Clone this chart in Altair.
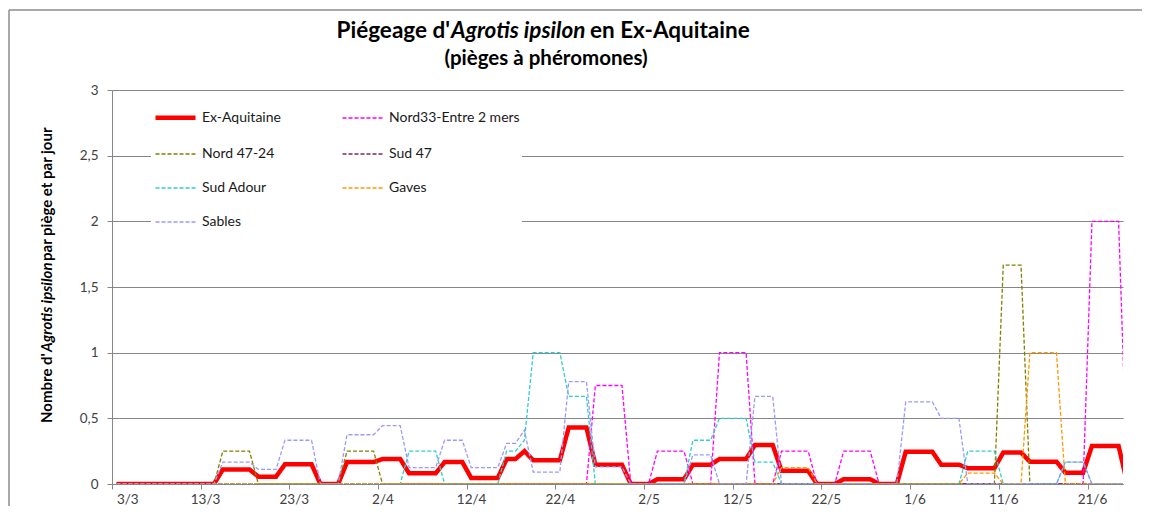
import json
import altair as alt
import pandas as pd

# ---------------- data ----------------
# one category per day, 3/3 .. 25/6
day_labels = [f"{d.day}/{d.month}" for d in pd.date_range("2016-03-03", "2016-06-25", freq="D")]

tick_days = [0, 10, 20, 30, 40, 50, 60, 70, 80, 90, 100, 110]
tick_labels = ["3/3", "13/3", "23/3", "2/4", "12/4", "22/4", "2/5", "12/5", "22/5", "1/6", "11/6", "21/6"]

series_names = ["Ex-Aquitaine", "Nord33-Entre 2 mers", "Nord 47-24", "Sud 47", "Sud Adour", "Gaves", "Sables"]

ex_aquitaine = [
    0, 0, 0, 0, 0, 0, 0, 0, 0, 0, 0, 0,
    0.11, 0.11, 0.11, 0.11,
    0.056, 0.056, 0.056,
    0.15, 0.15, 0.15, 0.15,
    0, 0, 0,
    0.167, 0.167, 0.167, 0.167,
    0.19, 0.19, 0.19,
    0.081, 0.081, 0.081, 0.081,
    0.167, 0.167, 0.167,
    0.046, 0.046, 0.046, 0.046,
    0.19, 0.19, 0.25,
    0.18, 0.18, 0.18, 0.18,
    0.43, 0.43, 0.43,
    0.147, 0.147, 0.147, 0.147,
    0, 0, 0,
    0.036, 0.036, 0.036, 0.036,
    0.147, 0.147, 0.147,
    0.19, 0.19, 0.19, 0.19,
    0.297, 0.297, 0.297,
    0.1, 0.1, 0.1, 0.1,
    0, 0, 0,
    0.036, 0.036, 0.036, 0.036,
    0, 0, 0,
    0.246, 0.246, 0.246, 0.246,
    0.147, 0.147, 0.147,
    0.12, 0.12, 0.12, 0.12,
    0.24, 0.24, 0.24,
    0.17, 0.17, 0.17, 0.17,
    0.086, 0.086, 0.086,
    0.29, 0.29, 0.29, 0.29,
    0,
]

nord33 = [
    0, 0, 0, 0, 0, 0, 0, 0, 0, 0,
    0, 0, 0, 0, 0, 0, 0, 0, 0, 0,
    0, 0, 0, 0, 0, 0, 0, 0, 0, 0,
    0, 0, 0, 0, 0, 0, 0, 0, 0, 0,
    0, 0, 0, 0, 0, 0, 0, 0, 0, 0,
    0, 0, 0, 0,
    0.75, 0.75, 0.75, 0.75,
    0, 0, 0,
    0.25, 0.25, 0.25, 0.25,
    0, 0, 0,
    1, 1, 1, 1,
    0, 0, 0,
    0.25, 0.25, 0.25, 0.25,
    0, 0, 0,
    0.25, 0.25, 0.25, 0.25,
    0, 0, 0, 0, 0, 0, 0, 0, 0, 0,
    0, 0, 0, 0, 0, 0, 0, 0, 0, 0,
    0, 0, 0, 0,
    2, 2, 2, 2,
    0,
]

nord47_24 = [
    0, 0, 0, 0, 0, 0, 0, 0, 0, 0, 0, 0,
    0.25, 0.25, 0.25, 0.25,
    0, 0, 0, 0, 0, 0, 0, 0, 0, 0,
    0.25, 0.25, 0.25, 0.25,
    0, 0, 0, 0, 0, 0, 0, 0, 0, 0,
    0, 0, 0, 0, 0, 0, 0, 0, 0, 0,
    0, 0, 0, 0, 0, 0, 0, 0, 0, 0,
    0, 0, 0, 0, 0, 0, 0, 0, 0, 0,
    0, 0, 0, 0, 0, 0, 0, 0, 0, 0,
    0, 0, 0, 0, 0, 0, 0, 0, 0, 0,
    0, 0, 0, 0, 0, 0, 0, 0, 0, 0,
    1.667, 1.667, 1.667,
    0, 0, 0, 0, 0, 0, 0, 0, 0, 0, 0, 0,
]

sud47 = [
    0, 0, 0, 0, 0, 0, 0, 0, 0, 0,
    0, 0, 0, 0, 0, 0, 0, 0, 0, 0,
    0, 0, 0, 0, 0, 0, 0, 0, 0, 0,
    0, 0, 0, 0, 0, 0, 0, 0, 0, 0,
    0, 0, 0, 0, 0, 0, 0, 0, 0, 0,
    0, 0, 0, 0, 0, 0, 0, 0, 0, 0,
    0, 0, 0, 0, 0, 0, 0, 0, 0, 0,
    0, 0, 0, 0, 0, 0, 0, 0, 0, 0,
    0, 0, 0, 0, 0, 0, 0, 0, 0, 0,
    0, 0, 0, 0, 0, 0, 0, 0, 0, 0,
    0, 0, 0, 0, 0, 0, 0, 0, 0, 0,
    0, 0, 0, 0, 0,
]

sud_adour = [
    0, 0, 0, 0, 0, 0, 0, 0, 0, 0,
    0, 0, 0, 0, 0, 0, 0, 0, 0, 0,
    0, 0, 0, 0, 0, 0, 0, 0, 0, 0,
    0, 0, 0,
    0.25, 0.25, 0.25, 0.25,
    0, 0, 0, 0, 0, 0, 0,
    0.25, 0.25, 0.333,
    1, 1, 1, 1,
    0.667, 0.667, 0.667,
    0, 0, 0, 0, 0, 0, 0, 0, 0, 0, 0,
    0.333, 0.333, 0.333,
    0.5, 0.5, 0.5, 0.5,
    0.167, 0.167, 0.167,
    0, 0, 0, 0, 0, 0, 0, 0, 0, 0,
    0, 0, 0, 0, 0, 0, 0, 0, 0, 0, 0,
    0.25, 0.25, 0.25, 0.25,
    0, 0, 0, 0, 0, 0, 0,
    0.167, 0.167, 0.167,
    0, 0, 0, 0, 0,
]

gaves = [
    0, 0, 0, 0, 0, 0, 0, 0, 0, 0,
    0, 0, 0, 0, 0, 0, 0, 0, 0, 0,
    0, 0, 0, 0, 0, 0, 0, 0, 0, 0,
    0, 0, 0, 0, 0, 0, 0, 0, 0, 0,
    0, 0, 0, 0, 0, 0, 0, 0, 0, 0,
    0, 0, 0, 0, 0, 0, 0, 0, 0, 0,
    0, 0, 0, 0, 0, 0, 0, 0, 0, 0,
    0, 0, 0, 0, 0,
    0.125, 0.125, 0.125, 0.125,
    0, 0, 0, 0, 0, 0, 0, 0, 0, 0,
    0, 0, 0, 0, 0, 0, 0,
    0.083, 0.083, 0.083, 0.083,
    0, 0, 0,
    1, 1, 1, 1,
    0, 0, 0, 0, 0, 0, 0, 0,
]

sables = [
    0, 0, 0, 0, 0, 0, 0, 0, 0, 0, 0, 0,
    0.167, 0.167, 0.167, 0.167,
    0.111, 0.111, 0.111,
    0.333, 0.333, 0.333, 0.333,
    0, 0, 0,
    0.375, 0.375, 0.375, 0.375,
    0.444, 0.444, 0.444,
    0.125, 0.125, 0.125, 0.125,
    0.333, 0.333, 0.333,
    0.125, 0.125, 0.125, 0.125,
    0.31, 0.31, 0.41,
    0.09, 0.09, 0.09, 0.09,
    0.78, 0.78, 0.78,
    0.13, 0.13, 0.13, 0.13,
    0, 0, 0, 0, 0, 0, 0,
    0.222, 0.222, 0.222,
    0, 0, 0, 0,
    0.667, 0.667, 0.667,
    0, 0, 0, 0, 0, 0, 0, 0, 0, 0, 0, 0, 0, 0,
    0.625, 0.625, 0.625, 0.625,
    0.5, 0.5, 0.5,
    0, 0, 0, 0, 0, 0, 0, 0, 0, 0, 0,
    0.167, 0.167, 0.167,
    0, 0, 0, 0, 0,
]

# ---------------- styles ----------------
colors = ["#FF0000", "#FF00FF", "#808000", "#862458", "#33CCCC", "#FF9900", "#9999FF"]
dashes = [[1, 0], [4, 2], [4, 2], [4, 2], [4, 2], [4, 2], [4, 2]]
widths = [4.5, 1.3, 1.3, 1.3, 1.3, 1.3, 1.3]

FONT = "Lato"
GRID = "#868686"
W, H = 1011, 394

df = pd.DataFrame({
    "jour": list(range(len(day_labels))),
    "date": day_labels,
    "Ex-Aquitaine": ex_aquitaine,
    "Nord33-Entre 2 mers": nord33,
    "Nord 47-24": nord47_24,
    "Sud 47": sud47,
    "Sud Adour": sud_adour,
    "Gaves": gaves,
    "Sables": sables,
})
df["pos"] = df["jour"] + 0.5
long = df.melt(id_vars=["jour", "date", "pos"], value_vars=series_names,
               var_name="serie", value_name="valeur")

label_expr = json.dumps(tick_labels) + "[round(datum.value / 10)]"

legend = alt.Legend(
    orient="none", legendX=39, legendY=3, columns=2, direction="horizontal", title=None,
    symbolType="stroke", symbolSize=1600, labelFont=FONT, labelFontSize=14,
    labelColor="#1a1a1a", labelOffset=4, fillColor="white", padding=2,
    rowPadding=6, columnPadding=58, labelLimit=300,
)

x_enc = alt.X(
    "pos:Q",
    scale=alt.Scale(domain=[0, 114], nice=False, zero=False),
    axis=alt.Axis(
        values=tick_days, labelExpr=label_expr, title=None, grid=False,
        tickSize=5, tickColor=GRID, domainColor=GRID, labelPadding=3,
        labelOffset=4.4, labelFont=FONT, labelFontSize=13.5, labelColor="#404040",
    ),
)
y_enc = alt.Y(
    "valeur:Q",
    scale=alt.Scale(domain=[0, 3], nice=False),
    axis=alt.Axis(
        values=[0, 0.5, 1, 1.5, 2, 2.5, 3],
        labelExpr="replace(format(datum.value, '~g'), '.', ',')",
        title=None, grid=True, gridColor=GRID, gridWidth=1, tickSize=5, tickColor=GRID,
        domainColor=GRID, labelPadding=9, labelFont=FONT, labelFontSize=13.5,
        labelColor="#404040",
    ),
)

base = alt.Chart(long).mark_line(clip=True, strokeCap="butt", strokeJoin="miter").encode(
    x=x_enc,
    y=y_enc,
    color=alt.Color("serie:N", scale=alt.Scale(domain=series_names, range=colors), legend=legend),
    strokeDash=alt.StrokeDash("serie:N", scale=alt.Scale(domain=series_names, range=dashes), legend=legend),
    strokeWidth=alt.StrokeWidth("serie:N", scale=alt.Scale(type="ordinal", domain=series_names, range=widths), legend=legend),
    order="pos:Q",
)
red_layer = base.transform_filter(alt.datum.serie == "Ex-Aquitaine")
other_layer = base.transform_filter(alt.datum.serie != "Ex-Aquitaine")

# ---------------- titles (mixed roman / italic) ----------------
def txt(s, x, y, size, italic=False, angle=0, align="left"):
    return alt.Chart(pd.DataFrame({"t": [s]})).mark_text(
        font=FONT, fontSize=size, fontWeight="bold",
        fontStyle="italic" if italic else "normal",
        align=align, baseline="alphabetic", angle=angle, color="#000000",
    ).encode(text="t:N", x=alt.value(x), y=alt.value(y))

title_parts = ["Piégeage d'", "Agrotis ipsilon", "en Ex-Aquitaine"]
subtitle = "(pièges à phéromones)"
ytitle_parts = ["Nombre d'", "Agrotis ipsilon", "par piège et par jour"]

texts = [
    txt(title_parts[0], 338, -52, 22.5, align="right"),
    txt(title_parts[1], 339, -52, 22.5, italic=True),
    txt(title_parts[2], 478, -52, 22.5),
    txt(subtitle, 434, -25, 20.5, align="center"),
    txt(ytitle_parts[0], -60, 333, 15, angle=270),
    txt(ytitle_parts[1], -60, 262, 15, italic=True, angle=270),
    txt(ytitle_parts[2], -60, 171, 15, angle=270),
]

# outer chart frame (top and left edges visible in the reference)
frame_top = alt.Chart(pd.DataFrame({"k": [0]})).mark_rule(color="#8c8c8c", strokeWidth=1.5).encode(
    x=alt.value(-103), x2=alt.value(1030), y=alt.value(-80))
frame_left = alt.Chart(pd.DataFrame({"k": [0]})).mark_rule(color="#8c8c8c", strokeWidth=1.5).encode(
    x=alt.value(-103), y=alt.value(-80), y2=alt.value(430))

chart = alt.layer(frame_top, frame_left, red_layer, other_layer, *texts).properties(
    width=W, height=H,
    padding={"left": 104, "top": 82, "right": 19, "bottom": 22},
    autosize=alt.AutoSizeParams(type="none"),
    background="white",
).configure_view(stroke=None)

chart.save("out.html", embed_options={"renderer": "svg", "actions": False})
